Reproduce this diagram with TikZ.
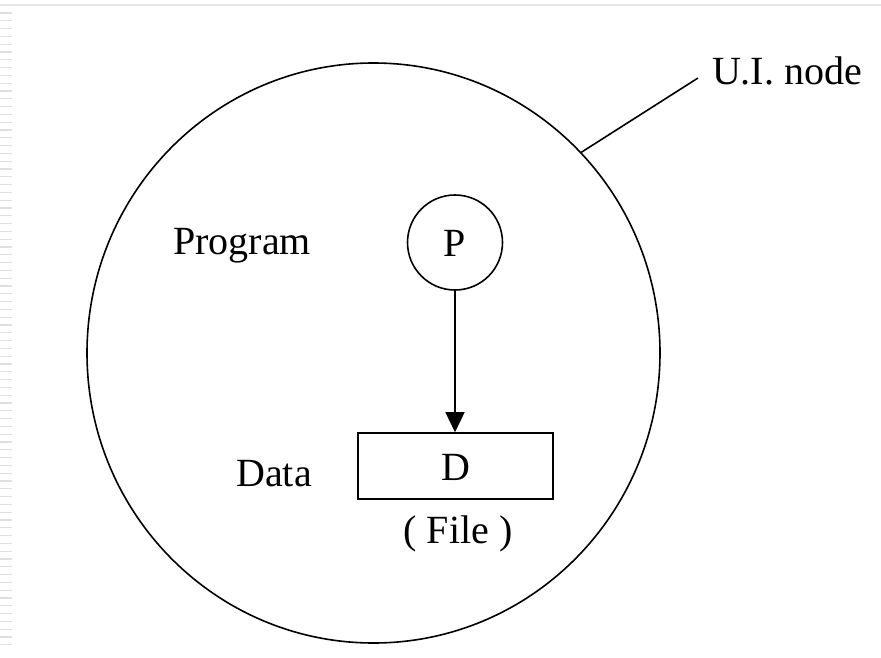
\documentclass[tikz,border=0pt]{standalone}
\usepackage{fontspec}
\setmainfont{Liberation Serif}
\usetikzlibrary{shapes.geometric,arrows.meta}

\begin{document}
\begin{tikzpicture}[x=1pt,y=-1pt,
	lbl/.style={font=\fontsize{40}{44}\selectfont,inner sep=0},
	line width=1.6pt]
	\useasboundingbox[fill=white] (0,0) rectangle (881,658);
	\draw[gray!20,line width=1.5pt] (0,5) -- (881,5);
	\foreach \y in {13,20.8,...,650} \draw[gray!25,line width=1.2pt] (0,\y) -- (12,\y);
	\node[draw,ellipse,inner sep=0,minimum width=573,minimum height=580] (ui) at (373.5,353) {};
	\node[draw,circle,inner sep=0,minimum size=95] (p) at (455,242.5) {};
	\node[lbl] (pname) at (455,243) {P};
	\node[draw,rectangle,inner sep=0,minimum width=195,minimum height=66] (d) at (455.5,466) {};
	\node[lbl] (dname) at (455.5,467) {D};
	\node[lbl] (prog) at (242,246) {Program};
	\node[lbl] (data) at (274,474) {Data};
	\node[lbl] (file) at (458,534) {( File )};
	\node[lbl] (uiname) at (787,71) {U.I. node};
	\coordinate (lead) at (698,78);
	\draw (ui.44) -- (lead);
	\draw[-{Triangle[length=20pt,width=19pt]}] (p) -- (p |- d.north);
\end{tikzpicture}
\end{document}
